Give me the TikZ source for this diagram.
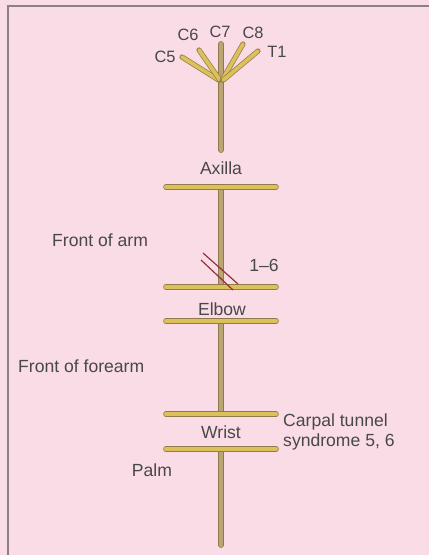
\documentclass[tikz,border=0pt]{standalone}
\usepackage{fontspec}
\setmainfont{Liberation Sans}
\definecolor{rosa}{HTML}{FADCE6}
\definecolor{rand}{HTML}{8C8088}
\definecolor{nerv}{HTML}{BBA574}
\definecolor{nervd}{HTML}{8F7A4A}
\definecolor{gold}{HTML}{DCC05A}
\definecolor{kerbrot}{HTML}{8E2F3A}
\definecolor{schrift}{HTML}{484848}
\tikzset{
  stamm/.style={nervd,line width=0.6pt,double=nerv,double distance=3.8pt,line cap=round},
  wurzel/.style={nervd,line width=0.6pt,double=gold,double distance=3.2pt,line cap=round},
  balken/.style={nervd,line width=0.6pt,double=gold,double distance=3.4pt,line cap=round},
  kerbe/.style={kerbrot,line width=1pt},
  lab/.style={schrift,font=\fontsize{15}{17}\selectfont,inner sep=0pt},
  klein/.style={schrift,font=\fontsize{14}{16}\selectfont,inner sep=0pt},
}

\begin{document}
\begin{tikzpicture}[x=0.03cm,y=-0.03cm]
  \fill[rosa] (0,0) rectangle (429,555);
  \useasboundingbox (0,0) rectangle (429,555);
  \draw[rand,line width=1.6pt] (8,555)--(8,6)--(429,6);
  % Stamm
  \coordinate (top) at (221,44);
  \coordinate (gabel) at (221,80);
  \coordinate (ax1) at (221,150);
  \coordinate (ax2) at (221,187);
  \coordinate (el1) at (221,287);
  \coordinate (el2) at (221,321);
  \coordinate (wr1) at (221,414);
  \coordinate (wr2) at (221,449);
  \coordinate (ende) at (221,545);
  \draw[stamm] (top)--(ax1);
  \draw[stamm] (ax2)--(el1);
  \draw[stamm] (el2)--(wr1);
  \draw[stamm] (wr2)--(ende);
  % Wurzeln
  \coordinate (c5) at (182,57);
  \coordinate (c6) at (199,50);
  \coordinate (c8) at (243,44);
  \coordinate (t1) at (258,51);
  \draw[wurzel] (c5)--([xshift=-2]gabel);
  \draw[wurzel] (c6)--([xshift=-1]gabel);
  \draw[wurzel] (c8)--([xshift=1]gabel);
  \draw[wurzel] (t1)--([xshift=2]gabel);
  % Balken
  \foreach \b in {ax2,el1,el2,wr1,wr2}
    \draw[balken] ([xshift=-47]\b)--([xshift=47]\b);
  % Kerbe
  \draw[kerbe] (203,253)--(238,284);
  \draw[kerbe] (201,260)--(233,290);
  % Texte
  \node[klein] (lc5) at (165,57) {C5};
  \node[klein] (lc6) at (188,35) {C6};
  \node[klein] (lc7) at (220,32) {C7};
  \node[klein] (lc8) at (253,33) {C8};
  \node[klein] (lt1) at (277,52) {T1};
  \node[lab] (axilla) at (221,168) {Axilla};
  \node[lab,anchor=west] (arm) at (52,240) {Front of arm};
  \node[lab] (schnitt) at (264,265) {1--6};
  \node[lab] (elbow) at (222,309) {Elbow};
  \node[lab,anchor=west] (unterarm) at (18,366) {Front of forearm};
  \node[lab] (wrist) at (221,432) {Wrist};
  \node[lab,anchor=west,align=left] (karpal) at (283,432) {Carpal tunnel\\syndrome 5, 6};
  \node[lab] (palm) at (152,470) {Palm};
\end{tikzpicture}
\end{document}
